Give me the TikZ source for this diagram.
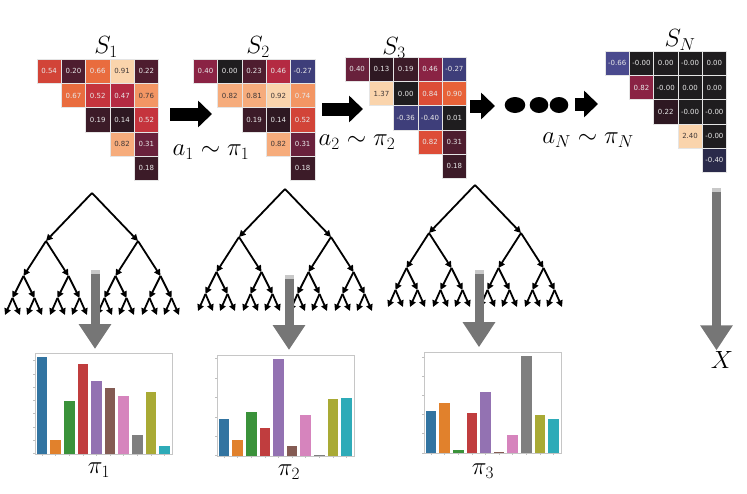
\documentclass[tikz,border=0pt]{standalone}
\usepackage{fontspec}
\usepackage{amssymb}
\usepackage{tikz}
\usetikzlibrary{arrows.meta,positioning}
\newfontfamily\cellfont{DejaVu Sans}

% heat map shades
\definecolor{blk}{RGB}{31,29,31}
\definecolor{drk1}{RGB}{46,24,34}
\definecolor{drk2}{RGB}{60,27,40}
\definecolor{mrn1}{RGB}{78,29,47}
\definecolor{mrn2}{RGB}{105,33,60}
\definecolor{mrn3}{RGB}{138,35,68}
\definecolor{red1}{RGB}{180,42,66}
\definecolor{red2}{RGB}{197,52,61}
\definecolor{red3}{RGB}{210,68,56}
\definecolor{org1}{RGB}{221,77,55}
\definecolor{org2}{RGB}{233,108,62}
\definecolor{org3}{RGB}{232,98,56}
\definecolor{pch1}{RGB}{243,150,100}
\definecolor{pch2}{RGB}{246,172,124}
\definecolor{pch3}{RGB}{250,212,172}
\definecolor{blu1}{RGB}{62,62,122}
\definecolor{blu2}{RGB}{74,74,142}
\definecolor{blu3}{RGB}{42,42,74}
\definecolor{txl}{RGB}{232,232,232}
\definecolor{txd}{RGB}{64,56,56}
% bar colours
\definecolor{tb1}{RGB}{50,116,161}
\definecolor{tb2}{RGB}{225,129,44}
\definecolor{tb3}{RGB}{58,146,58}
\definecolor{tb4}{RGB}{192,61,62}
\definecolor{tb5}{RGB}{147,114,178}
\definecolor{tb6}{RGB}{132,91,83}
\definecolor{tb7}{RGB}{214,132,189}
\definecolor{tb8}{RGB}{127,127,127}
\definecolor{tb9}{RGB}{169,170,53}
\definecolor{tb10}{RGB}{46,171,184}
\definecolor{pipe}{RGB}{118,118,118}
\definecolor{pipecap}{RGB}{200,200,200}

\begin{document}
\begin{tikzpicture}[x=1pt, y=-1pt,
		level 1/.style={sibling distance=92pt, level distance=48pt},
		level 2/.style={sibling distance=45pt, level distance=35pt},
		level 3/.style={sibling distance=22pt, level distance=22pt},
		level 4/.style={sibling distance=15pt, level distance=17pt},
		edge from parent/.style={draw, line width=1.8pt, -{Triangle[length=6.5pt,width=6.5pt]}}]
			\tikzstyle{Cell}	= [rectangle, draw=white!80!gray, line width=0.3pt, minimum width=24.3pt, minimum height=24.3pt, inner sep=0pt, font=\cellfont\fontsize{7}{8}\selectfont]
			\tikzstyle{Lbl}		= [inner sep=0pt, font=\fontsize{23}{27}\selectfont]
			\tikzstyle{Push}	= [line width=13pt, -{Triangle[length=14pt,width=26pt]}]
			\tikzstyle{Pipe}	= [line width=9pt, pipe, -{Triangle[length=25pt,width=31pt]}]
			\tikzstyle{Frame}	= [rectangle, draw=gray!45, line width=0.5pt, minimum width=137pt, minimum height=101pt, inner sep=0pt, anchor=north west]
			\tikzstyle{Tick}	= [gray!50, line width=0.4pt]

			\useasboundingbox (0,0) rectangle (747,493);

			% states
			\foreach \row/\col/\val/\fc/\ink in {1/1/0.54/red3/txl, 1/2/0.20/mrn1/txl, 1/3/0.66/org2/txl, 1/4/0.91/pch3/txd, 1/5/0.22/mrn1/txl, 2/2/0.67/org2/txl, 2/3/0.52/red2/txl, 2/4/0.47/red1/txl, 2/5/0.76/pch1/txd, 3/3/0.19/drk2/txl, 3/4/0.14/drk1/txl, 3/5/0.52/red2/txl, 4/4/0.82/pch2/txd, 4/5/0.31/mrn2/txl, 5/5/0.18/drk2/txl}
				\node (a\row\col) at ({37+24.3*(\col-0.5)}, {59+24.3*(\row-0.5)}) [Cell][fill=\fc, text=\ink] {\val};
			\foreach \row/\col/\val/\fc/\ink in {1/1/0.40/mrn3/txl, 1/2/0.00/blk/txl, 1/3/0.23/mrn1/txl, 1/4/0.46/red1/txl, 1/5/-0.27/blu1/txl, 2/2/0.82/pch2/txd, 2/3/0.81/pch2/txd, 2/4/0.92/pch3/txd, 2/5/0.74/pch1/txl, 3/3/0.19/drk2/txl, 3/4/0.14/drk1/txl, 3/5/0.52/red3/txl, 4/4/0.82/pch2/txd, 4/5/0.31/mrn2/txl, 5/5/0.18/drk2/txl}
				\node (b\row\col) at ({193.3+24.3*(\col-0.5)}, {59+24.3*(\row-0.5)}) [Cell][fill=\fc, text=\ink] {\val};
			\foreach \row/\col/\val/\fc/\ink in {1/1/0.40/mrn2/txl, 1/2/0.13/drk1/txl, 1/3/0.19/drk2/txl, 1/4/0.46/mrn3/txl, 1/5/-0.27/blu1/txl, 2/2/1.37/pch3/txd, 2/3/0.00/blk/txl, 2/4/0.84/org1/txl, 2/5/0.90/org3/txl, 3/3/-0.36/blu1/txl, 3/4/-0.40/blu1/txl, 3/5/0.01/blk/txl, 4/4/0.82/org1/txl, 4/5/0.31/mrn1/txl, 5/5/0.18/drk2/txl}
				\node (c\row\col) at ({345+24.3*(\col-0.5)}, {57+24.3*(\row-0.5)}) [Cell][fill=\fc, text=\ink] {\val};
			\foreach \row/\col/\val/\fc/\ink in {1/1/-0.66/blu2/txl, 1/2/-0.00/blk/txl, 1/3/0.00/blk/txl, 1/4/-0.00/blk/txl, 1/5/0.00/blk/txl, 2/2/0.82/mrn3/txl, 2/3/-0.00/blk/txl, 2/4/0.00/blk/txl, 2/5/0.00/blk/txl, 3/3/0.22/drk1/txl, 3/4/-0.00/blk/txl, 3/5/-0.00/blk/txl, 4/4/2.40/pch3/txd, 4/5/-0.00/blk/txl, 5/5/-0.40/blu3/txl}
				\node (n\row\col) at ({605+24.3*(\col-0.5)}, {51+24.3*(\row-0.5)}) [Cell][fill=\fc, text=\ink] {\val};

			\node (s1) at (106,47) [Lbl] {$S_1$};
			\node (s2) at (258,47) [Lbl] {$S_2$};
			\node (s3) at (394,48) [Lbl] {$S_3$};
			\node (sN) at (680,40) [Lbl] {$S_N$};

			% actions
			\foreach \k/\xa/\xb/\y in {1/170/212/114, 2/322/363/109, 3/470/495/106, 4/575/598/104}
			{
				\coordinate (p\k) at (\xa,\y);
				\coordinate (q\k) at (\xb,\y);
				\draw [Push] (p\k) -- (q\k);
			}
			\fill (515,105) ellipse [x radius=10.3pt, y radius=8pt];
			\fill (539,105) ellipse [x radius=9.3pt, y radius=8pt];
			\fill (559,105) ellipse [x radius=9.3pt, y radius=8pt];
			\node (act1) at (211,152) [Lbl] {$a_1\sim\pi_1$};
			\node (act2) at (357,142) [Lbl] {$a_2\sim\pi_2$};
			\node (actN) at (588,140) [Lbl] {$a_N\sim\pi_N$};

			% search trees
			\foreach \n/\x/\y in {1/92/193, 2/285/189, 3/475/185}
				\node[coordinate] (t\n) at (\x,\y) {}
					child foreach \i in {1,2} {node[coordinate] {}
						child foreach \j in {1,2} {node[coordinate] {}
							child foreach \m in {1,2} {node[coordinate] {}
								child foreach \l in {1,2} {node[coordinate] {}}}}};

			% policies
			\node (h1) at (35,352.5) [Frame] {};
			\node (h2) at (217,354.5) [Frame] {};
			\node (h3) at (424,351.7) [Frame] {};
			\foreach \k/\h in {1/96.6, 2/14, 3/52.3, 4/90, 5/73, 6/65.6, 7/58, 8/18.3, 9/62, 10/7.3}
				\fill [tb\k] ({35+1.7+13.6*(\k-1)}, 453.5) rectangle ++(10.7,-\h);
			\foreach \k/\h in {1/36.7, 2/16, 3/44, 4/28, 5/96.7, 6/10, 7/40.7, 8/1, 9/57, 10/58}
				\fill [tb\k] ({217+1.7+13.6*(\k-1)}, 455.5) rectangle ++(10.7,-\h);
			\foreach \k/\h in {1/42, 2/49.4, 3/2.7, 4/40, 5/60.7, 6/1, 7/17.4, 8/96.7, 9/38, 10/33.4}
				\fill [tb\k] ({424+1.7+13.6*(\k-1)}, 452.7) rectangle ++(10.7,-\h);
			\foreach \x/\b/\s/\t in {35/453.5/13.3/7, 217/455.5/19.4/5, 424/452.7/19.2/5}
			{
				\foreach \j in {0,...,\t}
					\draw [Tick] (\x,{\b-\s*\j}) -- ++(-2,0);
				\foreach \k in {1,...,10}
					\draw [Tick] ({\x+7.05+13.6*(\k-1)}, \b) -- ++(0,2);
			}
			\node (pi1) at (99,470) [Lbl] {$\pi_1$};
			\node (pi2) at (289,472) [Lbl] {$\pi_2$};
			\node (pi3) at (483,471) [Lbl] {$\pi_3$};
			\node (xout) at (722,360) [Lbl] {$X$};

			% gray arrows
			\coordinate (g1) at (95,270);
			\coordinate (g2) at (289,275);
			\coordinate (g3) at (479,270);
			\coordinate (gN) at (716.5,188);
			\draw [Pipe, shorten >=3.5pt] (g1) -- (g1 |- h1.north);
			\draw [Pipe, shorten >=4.5pt] (g2) -- (g2 |- h2.north);
			\draw [Pipe, shorten >=4.5pt] (g3) -- (g3 |- h3.north);
			\draw [Pipe, shorten >=1pt] (gN) -- (gN |- xout.north);
			\foreach \g in {g1, g2, g3, gN}
				\fill [pipecap] ([xshift=-4.5pt]\g) rectangle ([xshift=4.5pt, yshift=-4pt]\g);
		\end{tikzpicture}
\end{document}
